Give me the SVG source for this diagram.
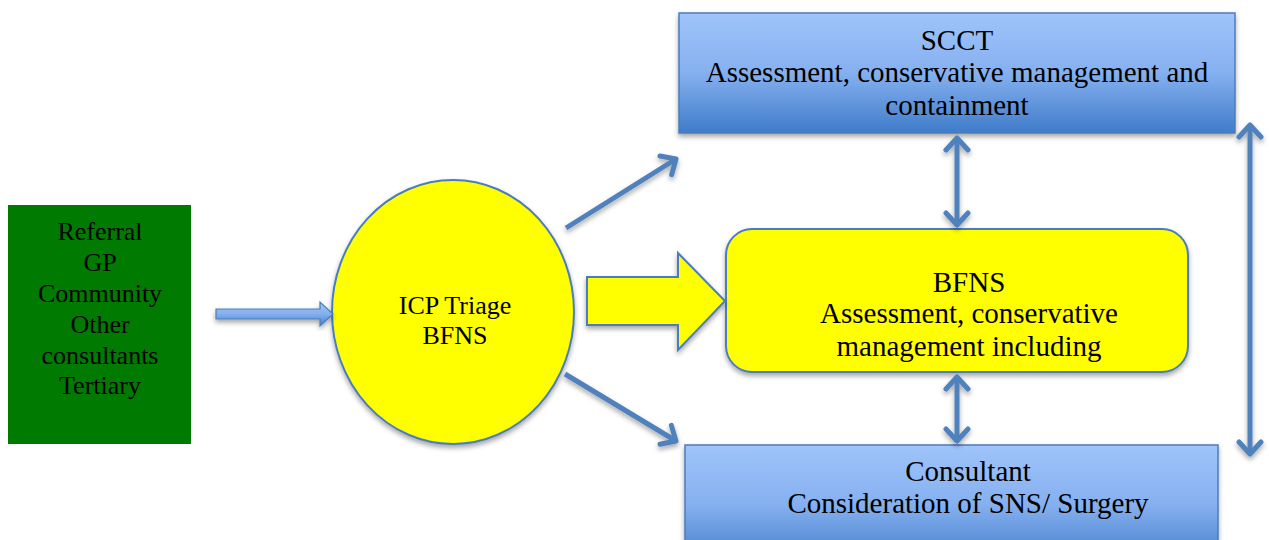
<svg xmlns="http://www.w3.org/2000/svg" width="1269" height="540" viewBox="0 0 1269 540">
  <defs>
    <linearGradient id="blueGrad" x1="0" y1="0" x2="0" y2="1">
      <stop offset="0" stop-color="#a0c4fb"/>
      <stop offset="0.5" stop-color="#85b0ef"/>
      <stop offset="1" stop-color="#3f7cca"/>
    </linearGradient>
    <filter id="shadow" x="-10%" y="-10%" width="120%" height="130%">
      <feDropShadow dx="0" dy="3" stdDeviation="2.5" flood-color="#000" flood-opacity="0.35"/>
    </filter>
    <marker id="chev" viewBox="-16 -14 20 28" markerWidth="20" markerHeight="28" refX="0" refY="0" orient="auto-start-reverse" markerUnits="userSpaceOnUse">
      <path d="M -12 -11 L 0 0 L -12 11" fill="none" stroke="#4f81bd" stroke-width="5" stroke-linecap="round" stroke-linejoin="round"/>
    </marker>
    <style>
      text { font-family: 'Liberation Serif', 'DejaVu Serif', serif; fill: #000; text-anchor: middle; }
      .big { font-size: 29px; }
      .mid { font-size: 26px; }
      .conn { stroke: #4f81bd; stroke-width: 5; fill: none; }
      .blueBox { fill: url(#blueGrad); stroke: #4a7ebb; stroke-width: 1.5; }
      .yellow { fill: #ffff00; stroke: #4a7ebb; stroke-width: 2; }
    </style>
  </defs>
  <rect width="1269" height="540" fill="#fff"/>

  <!-- Referral sources -->
  <g id="referral" font-family="Liberation Serif, serif">
    <rect x="8" y="205" width="183" height="239" fill="#007a00"/>
    <text class="mid" x="100" y="240">Referral</text>
    <text class="mid" x="100" y="271">GP</text>
    <text class="mid" x="100" y="302">Community</text>
    <text class="mid" x="100" y="333">Other</text>
    <text class="mid" x="100" y="364">consultants</text>
    <text class="mid" x="100" y="394">Tertiary</text>
  </g>

  <!-- Triage -->
  <g id="triage">
    <ellipse cx="453" cy="312" rx="121" ry="132" class="yellow" filter="url(#shadow)"/>
    <text class="mid" x="455" y="314">ICP Triage</text>
    <text class="mid" x="455" y="344">BFNS</text>
  </g>

  <!-- SCCT -->
  <g id="scct">
    <rect x="679" y="13" width="556" height="120" class="blueBox" filter="url(#shadow)"/>
    <text class="big" x="957" y="50">SCCT</text>
    <text class="big" x="957" y="82">Assessment, conservative management and</text>
    <text class="big" x="957" y="115">containment</text>
  </g>

  <!-- BFNS -->
  <g id="bfns">
    <rect x="726" y="229" width="462" height="143" rx="26" ry="26" class="yellow" filter="url(#shadow)"/>
    <text class="big" x="969" y="292">BFNS</text>
    <text class="big" x="969" y="323">Assessment, conservative</text>
    <text class="big" x="969" y="356">management including</text>
  </g>

  <!-- Consultant -->
  <g id="consultant">
    <rect x="685" y="445" width="533" height="120" class="blueBox" filter="url(#shadow)"/>
    <text class="big" x="968" y="481">Consultant</text>
    <text class="big" x="968" y="513">Consideration of SNS/ Surgery</text>
  </g>

  <!-- Connectors -->
  <g id="connectors">
    <polygon points="216,309 320,309 320,302 333,314 320,326 320,319 216,319" fill="url(#blueGrad)" stroke="#4a7ebb" stroke-width="1.2" filter="url(#shadow)"/>
    <polygon points="587,277 678,277 678,253 725,301 678,350 678,325 587,325" class="yellow" filter="url(#shadow)"/>
    <g filter="url(#shadow)">
      <line x1="566" y1="228" x2="676" y2="159" class="conn" marker-end="url(#chev)"/>
      <line x1="565" y1="374" x2="676" y2="441" class="conn" marker-end="url(#chev)"/>
      <line x1="957" y1="138" x2="957" y2="225" class="conn" marker-start="url(#chev)" marker-end="url(#chev)"/>
      <line x1="957" y1="377" x2="957" y2="441" class="conn" marker-start="url(#chev)" marker-end="url(#chev)"/>
      <line x1="1250" y1="125" x2="1250" y2="454" class="conn" marker-start="url(#chev)" marker-end="url(#chev)"/>
    </g>
  </g>
</svg>
